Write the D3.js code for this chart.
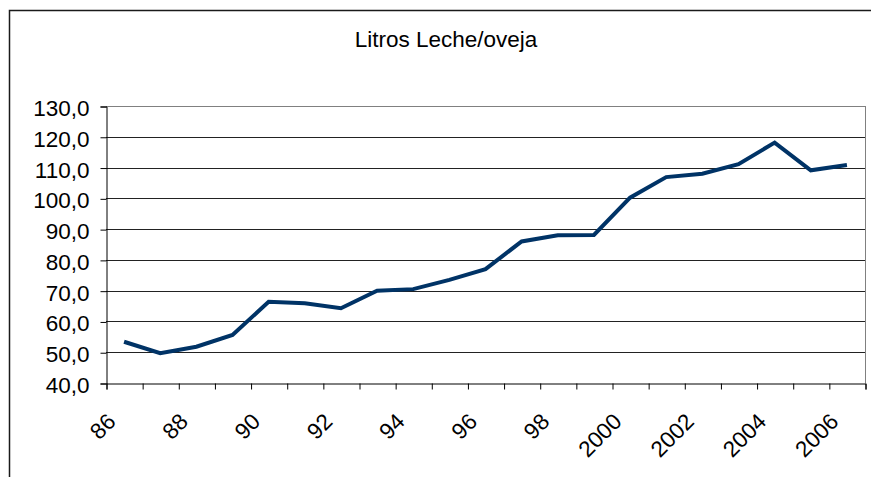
<!DOCTYPE html>
<html>
<head>
<meta charset="utf-8">
<script src="https://cdn.jsdelivr.net/npm/d3@7"></script>
<style>
  body { margin: 0; background: #fff; }
  text { font-family: "Liberation Sans", Arial, sans-serif; fill: #000; }
</style>
</head>
<body>
<div id="chart"></div>
<script>
// values
var years = ['86','87','88','89','90','91','92','93','94','95','96','97','98','99',
             '2000','2001','2002','2003','2004','2005','2006'];
var litros = [53.4, 49.7, 51.8, 55.6, 66.4, 65.9, 64.3, 70.0, 70.5, 73.5, 77.0,
              86.0, 88.0, 88.1, 100.2, 106.9, 108.0, 111.1, 118.1, 109.1, 110.8];
var yTicks = [40, 50, 60, 70, 80, 90, 100, 110, 120, 130];
var title = 'Litros Leche/oveja';

const W = 871, H = 477;
const plot = {left: 106, right: 865, top: 106, bottom: 383};
const fontSize = '22.5px';

const svg = d3.select('#chart').append('svg')
    .attr('width', W)
    .attr('height', H);

// outer chart border (runs off the window right and bottom)
svg.append('rect')
    .attr('x', 9.5).attr('y', 10.5)
    .attr('width', 1000).attr('height', 600)
    .attr('fill', 'none')
    .attr('stroke', '#1a1a1a')
    .attr('stroke-width', 1.5);

svg.append('text')
    .attr('x', 446).attr('y', 47)
    .attr('text-anchor', 'middle')
    .style('font-size', '22.5px')
    .text(title);

// x: one slot per year, ticks between slots
const x = d3.scaleLinear()
    .domain([0, years.length])
    .range([plot.left, plot.right]);

const y = d3.scaleLinear()
    .domain([40, 130])
    .range([plot.bottom, plot.top]);

const comma = d3.formatLocale({decimal: ',', thousands: '.', grouping: [3], currency: ['', '']}).format('.1f');

// gridlines
svg.append('g')
  .selectAll('line')
  .data(yTicks.filter(d => d > 40))
  .join('line')
    .attr('x1', plot.left).attr('x2', plot.right)
    .attr('y1', d => Math.round(y(d)) + 0.5)
    .attr('y2', d => Math.round(y(d)) + 0.5)
    .attr('stroke', d => d == 130 ? '#808080' : '#222');

// right frame
svg.append('line')
    .attr('x1', plot.right + 0.5).attr('x2', plot.right + 0.5)
    .attr('y1', plot.top).attr('y2', plot.bottom)
    .attr('stroke', '#808080');

// y axis
const yAxis = svg.append('g')
    .attr('transform', `translate(${plot.left + 0.5},0.5)`)
    .call(d3.axisLeft(y).tickValues(yTicks).tickSize(6).tickPadding(11).tickFormat(comma));
yAxis.selectAll('line, path').attr('stroke', '#000');
yAxis.selectAll('text')
    .attr('dy', '0.4em')
    .style('font-size', fontSize)
    .style('font-family', '"Liberation Sans", Arial, sans-serif');

// x axis
const xAxis = svg.append('g')
    .attr('transform', `translate(0.5,${plot.bottom + 0.5})`)
    .call(d3.axisBottom(x).tickValues(d3.range(0, years.length + 1)).tickSize(6).tickFormat(''));
xAxis.select('path').attr('stroke', '#000');
xAxis.selectAll('line').attr('stroke', '#000');

svg.append('g')
  .selectAll('text')
  .data(years.filter((d, i) => i % 2 == 0))
  .join('text')
    .attr('text-anchor', 'end')
    .attr('transform', d => `translate(${x(years.indexOf(d) + 0.5) - 7},423) rotate(-45)`)
    .style('font-size', fontSize)
    .text(d => d);

// the series
const line = d3.line()
    .x((d, i) => x(i + 0.5))
    .y(d => y(d));

svg.append('path')
    .datum(litros)
    .attr('d', line)
    .attr('fill', 'none')
    .attr('stroke', '#003366')
    .attr('stroke-width', 4)
    .attr('stroke-linejoin', 'miter');
</script>
</body>
</html>
